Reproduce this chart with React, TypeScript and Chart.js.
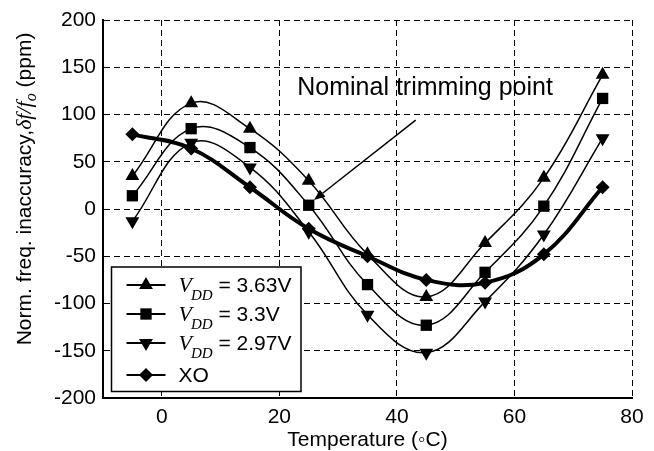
import React, { useEffect, useRef } from 'react';
import { Chart, registerables } from 'chart.js';

Chart.register(...registerables);

// ---- Data ----
const temperatures = [-5, 5, 15, 25, 35, 45, 55, 65, 75];
const vdd363 = [35, 112, 85, 30, -48, -93, -36, 33, 142];
const vdd330 = [14, 85, 65, 4, -80, -123, -67, 3, 117];
const vdd297 = [-13, 70, 44, -24, -112, -152, -98, -27, 75];
const xoData = [79, 64, 23, -21, -50, -75, -78, -48, 23];
const xTickValues = [0, 20, 40, 60, 80];
const yTickValues = [-200, -150, -100, -50, 0, 50, 100, 150, 200];
const legendVoltages = ['3.63V', '3.3V', '2.97V'];
const xoLabel = 'XO';
const xTitle = 'Temperature (\u25E6C)';
const annotationText = 'Nominal trimming point';
const annotationTextAt = { x: 44.8, y: 120.6 };
const annotationFrom = { x: 43.2, y: 94 };
const annotationTo = { x: 25.9, y: 9.5 };

const SANS = '"Liberation Sans", Arial, Helvetica, sans-serif';
const SERIF = '"Liberation Serif", "Times New Roman", serif';

type Kind = 'up' | 'down' | 'square' | 'diamond';
const kinds: Kind[] = ['up', 'square', 'down', 'diamond'];

function drawMarker(ctx: CanvasRenderingContext2D, kind: Kind, x: number, y: number) {
  ctx.beginPath();
  if (kind === 'up') {
    const r = 8;
    ctx.moveTo(x, y - r);
    ctx.lineTo(x + r * 0.866, y + r * 0.5);
    ctx.lineTo(x - r * 0.866, y + r * 0.5);
  } else if (kind === 'down') {
    const r = 8;
    ctx.moveTo(x, y + r);
    ctx.lineTo(x + r * 0.866, y - r * 0.5);
    ctx.lineTo(x - r * 0.866, y - r * 0.5);
  } else if (kind === 'square') {
    const s = 8 * Math.SQRT1_2;
    ctx.rect(x - s, y - s, 2 * s, 2 * s);
  } else {
    const r = 7;
    ctx.moveTo(x, y - r);
    ctx.lineTo(x + r, y);
    ctx.lineTo(x, y + r);
    ctx.lineTo(x - r, y);
  }
  ctx.closePath();
  ctx.fill();
}

const yTitlePlugin = {
  id: 'yTitleRich',
  afterDraw(chart: any) {
    const ctx: CanvasRenderingContext2D = chart.ctx;
    const { chartArea } = chart;
    const parts = [
      { t: 'Norm. freq. inaccuracy,', f: `21px ${SANS}`, dy: 0 },
      { t: '\u03B4f/f', f: `italic 22px ${SERIF}`, dy: 0 },
      { t: 'o', f: `italic 16px ${SERIF}`, dy: 5 },
      { t: ' (ppm)', f: `21px ${SANS}`, dy: 0 },
    ];
    ctx.save();
    let total = 0;
    const widths = parts.map((p) => {
      ctx.font = p.f;
      const w = ctx.measureText(p.t).width;
      total += w;
      return w;
    });
    const cy = (chartArea.top + chartArea.bottom) / 2 - 20;
    ctx.translate(31, cy);
    ctx.rotate(-Math.PI / 2);
    ctx.fillStyle = '#000';
    ctx.textBaseline = 'alphabetic';
    ctx.textAlign = 'left';
    let x = -total / 2;
    parts.forEach((p, i) => {
      ctx.font = p.f;
      ctx.fillText(p.t, x, p.dy);
      x += widths[i];
    });
    ctx.restore();
  },
};

const annotationPlugin = {
  id: 'trimAnnotation',
  afterDatasetsDraw(chart: any) {
    const ctx: CanvasRenderingContext2D = chart.ctx;
    const xs = chart.scales.x;
    const ys = chart.scales.y;
    ctx.save();
    ctx.fillStyle = '#000';
    ctx.strokeStyle = '#000';
    ctx.font = `25px ${SANS}`;
    ctx.textAlign = 'center';
    ctx.textBaseline = 'alphabetic';
    ctx.fillText(annotationText, xs.getPixelForValue(annotationTextAt.x), ys.getPixelForValue(annotationTextAt.y));
    const x1 = xs.getPixelForValue(annotationFrom.x);
    const y1 = ys.getPixelForValue(annotationFrom.y);
    const x2 = xs.getPixelForValue(annotationTo.x);
    const y2 = ys.getPixelForValue(annotationTo.y);
    const ang = Math.atan2(y2 - y1, x2 - x1);
    const head = 11;
    const hx = x2 - Math.cos(ang) * head;
    const hy = y2 - Math.sin(ang) * head;
    ctx.lineWidth = 1.5;
    ctx.beginPath();
    ctx.moveTo(x1, y1);
    ctx.lineTo(hx, hy);
    ctx.stroke();
    ctx.beginPath();
    ctx.moveTo(x2, y2);
    ctx.lineTo(hx + Math.cos(ang + Math.PI / 2) * 4.5, hy + Math.sin(ang + Math.PI / 2) * 4.5);
    ctx.lineTo(hx + Math.cos(ang - Math.PI / 2) * 4.5, hy + Math.sin(ang - Math.PI / 2) * 4.5);
    ctx.closePath();
    ctx.fill();
    ctx.restore();
  },
};

const legendPlugin = {
  id: 'richLegend',
  afterDraw(chart: any) {
    const ctx: CanvasRenderingContext2D = chart.ctx;
    const { chartArea } = chart;
    const left = chartArea.left + 8.5;
    const right = left + 189.5;
    const bottom = chartArea.bottom - 6.5;
    const top = bottom - 124.5;
    ctx.save();
    ctx.fillStyle = '#fff';
    ctx.fillRect(left, top, right - left, bottom - top);
    ctx.strokeStyle = '#000';
    ctx.lineWidth = 1.5;
    ctx.strokeRect(left, top, right - left, bottom - top);
    const rowOffsets = [18, 47, 76, 108];
    const labels = [...legendVoltages, xoLabel];
    labels.forEach((lab, i) => {
      const y = top + rowOffsets[i];
      ctx.strokeStyle = '#000';
      ctx.lineWidth = 2;
      ctx.beginPath();
      ctx.moveTo(left + 15, y);
      ctx.lineTo(left + 54, y);
      ctx.stroke();
      ctx.fillStyle = '#000';
      drawMarker(ctx, kinds[i], left + 34.5, y);
      ctx.textAlign = 'left';
      ctx.textBaseline = 'alphabetic';
      let tx = left + 67;
      if (i < 3) {
        ctx.font = `italic 22px ${SERIF}`;
        ctx.fillText('V', tx, y + 7);
        tx += ctx.measureText('V').width - 1;
        ctx.font = `italic 15px ${SERIF}`;
        ctx.fillText('DD', tx, y + 15);
        tx += ctx.measureText('DD').width;
        ctx.font = `21px ${SANS}`;
        ctx.fillText(' = ' + lab, tx, y + 7);
      } else {
        ctx.font = `21px ${SANS}`;
        ctx.fillText(lab, tx, y + 7);
      }
    });
    ctx.restore();
  },
};

export default function App() {
  const canvasRef = useRef<HTMLCanvasElement | null>(null);

  useEffect(() => {
    if (!canvasRef.current) return;
    const mk = (label: string, data: number[], style: string, rot: number, radius: number, width: number) => ({
      label,
      data: temperatures.map((t, i) => ({ x: t, y: data[i] })),
      borderColor: '#000',
      backgroundColor: '#000',
      borderWidth: width,
      pointStyle: style,
      pointRotation: rot,
      pointRadius: radius,
      pointBorderWidth: 0,
      pointBackgroundColor: '#000',
      tension: 0.4,
      fill: false,
    });
    const chart = new Chart(canvasRef.current, {
      type: 'line',
      data: {
        datasets: [
          mk('VDD = ' + legendVoltages[0], vdd363, 'triangle', 0, 8, 1.5),
          mk('VDD = ' + legendVoltages[1], vdd330, 'rect', 0, 8, 1.5),
          mk('VDD = ' + legendVoltages[2], vdd297, 'triangle', 180, 8, 1.5),
          mk(xoLabel, xoData, 'rectRot', 0, 7, 4),
        ] as any,
      },
      options: {
        animation: false,
        responsive: false,
        devicePixelRatio: 1,
        layout: { padding: { top: 20, right: 22, left: 0, bottom: 0 } },
        plugins: {
          legend: { display: false },
          tooltip: { enabled: false },
        },
        scales: {
          x: {
            type: 'linear',
            min: -10,
            max: 80,
            afterBuildTicks: (s: any) => {
              s.ticks = xTickValues.map((v) => ({ value: v }));
            },
            afterFit: (s: any) => {
              s.height = 53;
            },
            grid: { color: '#000', lineWidth: 1, drawTicks: false },
            border: { display: true, color: '#000', width: 2, dash: [6, 4] },
            ticks: {
              color: '#000',
              padding: 7,
              maxRotation: 0,
              font: { family: SANS, size: 21 },
            },
            title: {
              display: true,
              text: xTitle,
              color: '#000',
              font: { family: SANS, size: 21, lineHeight: 1.0 },
              padding: { top: 0, bottom: 0 },
            },
          },
          y: {
            type: 'linear',
            min: -200,
            max: 200,
            afterBuildTicks: (s: any) => {
              s.ticks = yTickValues.map((v) => ({ value: v }));
            },
            afterFit: (s: any) => {
              s.width = 103;
            },
            grid: { color: '#000', lineWidth: 1, drawTicks: false },
            border: { display: true, color: '#000', width: 2, dash: [6, 4] },
            ticks: {
              color: '#000',
              padding: 7,
              font: { family: SANS, size: 21 },
            },
          },
        },
      } as any,
      plugins: [annotationPlugin, legendPlugin, yTitlePlugin],
    });
    return () => chart.destroy();
  }, []);

  return (
    <div style={{ position: 'absolute', left: 0, top: 0, width: 654, height: 451, background: '#fff' }}>
      <canvas ref={canvasRef} width={654} height={451} style={{ width: 654, height: 451, display: 'block' }} />
    </div>
  );
}
